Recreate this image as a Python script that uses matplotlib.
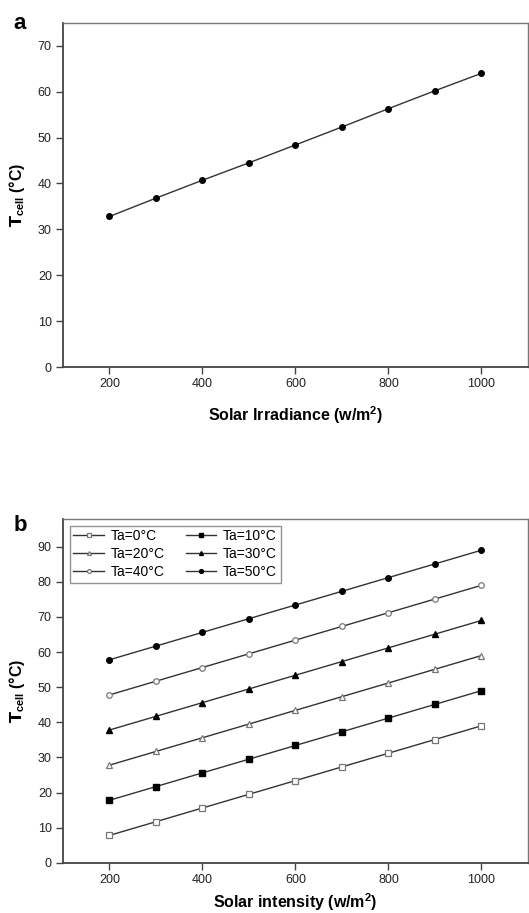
import matplotlib
matplotlib.use("Agg")
import matplotlib.pyplot as plt

plt.rcParams['font.family'] = ['Liberation Sans', 'DejaVu Sans']

irradiance = [200, 300, 400, 500, 600, 700, 800, 900, 1000]
tcell_a = [32.8, 36.8, 40.7, 44.5, 48.4, 52.3, 56.3, 60.2, 64.0]

ta_labels = ['Ta=0°C', 'Ta=10°C', 'Ta=20°C', 'Ta=30°C', 'Ta=40°C', 'Ta=50°C']
tcell_ta0 = [7.8, 11.7, 15.6, 19.5, 23.4, 27.3, 31.2, 35.1, 39.0]
tcell_ta10 = [17.8, 21.7, 25.6, 29.5, 33.4, 37.3, 41.2, 45.1, 49.0]
tcell_ta20 = [27.8, 31.7, 35.6, 39.5, 43.4, 47.3, 51.2, 55.1, 59.0]
tcell_ta30 = [37.8, 41.7, 45.6, 49.5, 53.4, 57.3, 61.2, 65.1, 69.0]
tcell_ta40 = [47.8, 51.7, 55.6, 59.5, 63.4, 67.3, 71.2, 75.1, 79.0]
tcell_ta50 = [57.8, 61.7, 65.6, 69.5, 73.4, 77.3, 81.2, 85.1, 89.0]
series_b = [tcell_ta0, tcell_ta10, tcell_ta20, tcell_ta30, tcell_ta40, tcell_ta50]

xticks = [200, 400, 600, 800, 1000]

fig = plt.figure(figsize=(5.29, 9.13), dpi=100)
ax1 = fig.add_axes([0.119, 0.598, 0.879, 0.377])
ax2 = fig.add_axes([0.119, 0.055, 0.879, 0.377])

line_col = '#333333'
spine_col = '#444444'

def style(ax):
    for k, s in ax.spines.items():
        if k in ('left', 'bottom'):
            s.set_color(spine_col)
            s.set_linewidth(1.3)
        else:
            s.set_color('#777777')
            s.set_linewidth(1.0)
    ax.tick_params(axis='both', direction='out', length=5, width=1.0,
                   color=spine_col, labelsize=9, pad=3, labelcolor='#222222')
    ax.tick_params(axis='x', top=False)
    ax.tick_params(axis='y', right=False)
    ax.set_xticks(xticks)
    ax.set_xlim(100, 1100)

ylab = r'$\mathbf{T}_{\mathregular{cell}}$ (°C)'

ax1.plot(irradiance, tcell_a, color=line_col, lw=1.0, marker='o', ms=4,
         mfc='black', mec='black')
style(ax1)
ax1.set_ylim(0, 75)
ax1.set_yticks([0, 10, 20, 30, 40, 50, 60, 70])
ax1.set_xlabel('Solar Irradiance (w/m$^\\mathregular{2}$)', fontsize=11.5, fontweight='bold', labelpad=10)
ax1.set_ylabel(ylab, fontsize=11.5, fontweight='bold', labelpad=8)
fig.text(0.026, 0.974, 'a', fontsize=16, fontweight='bold', ha='left', va='center')

markers = ['s', 's', '^', '^', 'o', 'o']
filled = [False, True, False, True, False, True]
handles = []
for vals, lab, m, f in zip(series_b, ta_labels, markers, filled):
    if f:
        h, = ax2.plot(irradiance, vals, color=line_col, lw=1.0, marker=m, ms=4,
                      mfc='black', mec='black', label=lab)
    else:
        h, = ax2.plot(irradiance, vals, color=line_col, lw=1.0, marker=m, ms=4,
                      mfc='white', mec='#777777', mew=0.9, label=lab)
    handles.append(h)
style(ax2)
ax2.set_ylim(0, 98)
ax2.set_yticks([0, 10, 20, 30, 40, 50, 60, 70, 80, 90])
ax2.set_xlabel('Solar intensity (w/m$^\\mathregular{2}$)', fontsize=11.5, fontweight='bold', labelpad=4)
ax2.set_ylabel(ylab, fontsize=11.5, fontweight='bold', labelpad=8)
order = [0, 2, 4, 1, 3, 5]
leg = ax2.legend([handles[i] for i in order], [ta_labels[i] for i in order],
                 loc='upper left', ncol=2, fontsize=10, frameon=True, fancybox=False,
                 edgecolor='#777777', handlelength=2.2, columnspacing=1.5,
                 handletextpad=0.5, labelspacing=0.3, borderpad=0.25,
                 markerscale=0.7, borderaxespad=0.5)
leg.get_frame().set_linewidth(1.0)
fig.text(0.026, 0.424, 'b', fontsize=16, fontweight='bold', ha='left', va='center')

fig.savefig('out.png', dpi=100)
